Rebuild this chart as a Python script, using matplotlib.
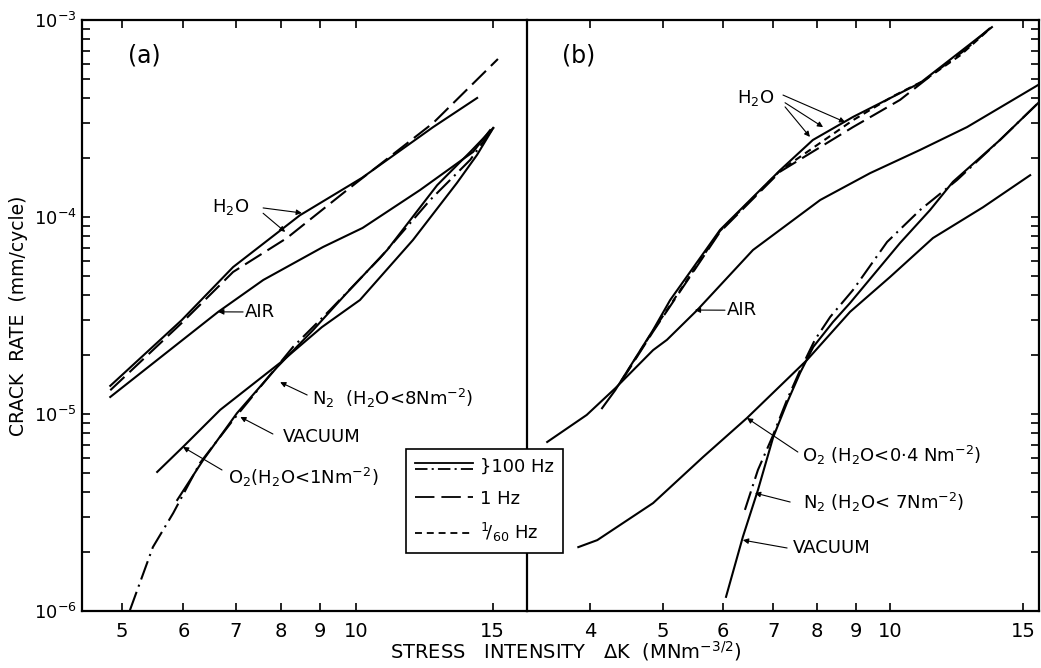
import matplotlib
matplotlib.use('Agg')
import matplotlib.pyplot as plt
from matplotlib.lines import Line2D
from matplotlib.legend_handler import HandlerBase
from matplotlib.ticker import FixedLocator, NullLocator, LogLocator, NullFormatter, FixedFormatter

plt.rcParams['font.family'] = ['DejaVu Sans']
plt.rcParams['mathtext.default'] = 'regular'
plt.rcParams['lines.scale_dashes'] = False

# ---------------- data : panel (a) ----------------
a_h2o_100_x = [4.83, 5.97, 6.95, 8.47, 10.18, 12.57, 14.32]
a_h2o_100_y = [1.39e-5, 3.0e-5, 5.57e-5, 1.02e-4, 1.58e-4, 2.86e-4, 4.02e-4]
a_h2o_1_x = [4.83, 5.97, 6.95, 8.15, 9.74, 12.57, 15.23]
a_h2o_1_y = [1.32e-5, 2.90e-5, 5.26e-5, 7.82e-5, 1.37e-4, 3.0e-4, 6.34e-4]
a_air_x = [4.83, 6.65, 7.60, 9.07, 10.2, 12.09, 14.15, 14.88]
a_air_y = [1.22e-5, 3.30e-5, 4.79e-5, 7.04e-5, 8.8e-5, 1.37e-4, 2.14e-4, 2.76e-4]
a_o2_x = [5.55, 5.99, 6.69, 7.99, 9.04, 10.12, 11.84, 13.49, 14.32, 15.02]
a_o2_y = [5.08e-6, 6.8e-6, 1.05e-5, 1.82e-5, 2.76e-5, 3.79e-5, 7.64e-5, 1.49e-4, 2.07e-4, 2.83e-4]
a_vac_x = [5.89, 6.36, 7.03, 7.92, 8.81, 9.68, 10.97, 12.72, 14.03, 15.02]
a_vac_y = [3.66e-6, 5.84e-6, 1.01e-5, 1.73e-5, 2.67e-5, 4.02e-5, 6.8e-5, 1.45e-4, 2.14e-4, 2.83e-4]
a_n2_x = [5.12, 5.48, 5.82, 6.30, 6.95, 7.53, 8.30, 9.26, 10.74, 12.46, 14.03, 15.02]
a_n2_y = [1.01e-6, 2.11e-6, 3.14e-6, 5.64e-6, 9.32e-6, 1.37e-5, 2.19e-5, 3.37e-5, 6.19e-5, 1.22e-4, 1.95e-4, 2.83e-4]

# ---------------- data : panel (b) ----------------
b_h2o_100_x = [4.15, 4.32, 4.85, 5.11, 5.95, 7.15, 7.90, 8.93, 10.96, 13.65]
b_h2o_100_y = [1.07e-5, 1.32e-5, 2.67e-5, 3.79e-5, 8.6e-5, 1.73e-4, 2.46e-4, 3.22e-4, 4.79e-4, 9.2e-4]
b_h2o_1_x = [4.4, 4.85, 5.95, 7.15, 8.93, 10.31, 11.58, 12.57, 13.57]
b_h2o_1_y = [1.46e-5, 2.62e-5, 8.4e-5, 1.70e-4, 2.86e-4, 3.93e-4, 5.57e-4, 7.04e-4, 9.1e-4]
b_h2o_60_x = [4.4, 4.85, 5.95, 7.15, 8.93, 10.09, 11.06, 12.38, 13.6]
b_h2o_60_y = [1.47e-5, 2.65e-5, 8.5e-5, 1.72e-4, 3.10e-4, 4.10e-4, 4.90e-4, 6.6e-4, 9.1e-4]
b_air_x = [3.51, 3.96, 4.32, 4.85, 5.06, 5.55, 6.58, 8.08, 9.41, 10.96, 12.65, 15.72]
b_air_y = [7.21e-6, 9.89e-6, 1.35e-5, 2.11e-5, 2.38e-5, 3.37e-5, 6.8e-5, 1.22e-4, 1.67e-4, 2.19e-4, 2.86e-4, 4.68e-4]
b_o2_x = [3.86, 4.09, 4.85, 5.65, 6.46, 7.76, 8.85, 10.0, 11.4, 13.28, 15.34]
b_o2_y = [2.11e-6, 2.29e-6, 3.53e-6, 6.05e-6, 9.54e-6, 1.88e-5, 3.3e-5, 4.96e-5, 7.82e-5, 1.12e-4, 1.63e-4]
b_vac_x = [6.06, 6.38, 6.68, 7.00, 7.30, 7.60, 7.91, 8.40, 8.85, 10.31, 11.30, 12.12, 13.99, 15.72]
b_vac_y = [1.18e-6, 2.38e-6, 4.11e-6, 7.64e-6, 1.14e-5, 1.62e-5, 2.19e-5, 2.93e-5, 3.66e-5, 7.38e-5, 1.085e-4, 1.51e-4, 2.46e-4, 3.79e-4]
b_n2_x = [6.42, 6.68, 6.98, 7.30, 7.60, 7.95, 8.33, 8.93, 9.91, 10.96, 12.27, 13.99, 15.72]
b_n2_y = [3.26e-6, 5.2e-6, 7.64e-6, 1.18e-5, 1.67e-5, 2.38e-5, 3.11e-5, 4.26e-5, 7.47e-5, 1.085e-4, 1.54e-4, 2.46e-4, 3.79e-4]

# ---------------- axis ticks ----------------
a_xticks = [5, 6, 7, 8, 9, 10, 15]
b_xticks = [4, 5, 6, 7, 8, 9, 10, 15]
y_major = [1e-6, 1e-5, 1e-4, 1e-3]
y_labels = ['10$^{-6}$', '10$^{-5}$', '10$^{-4}$', '10$^{-3}$']

legend_labels = ['}100 Hz', '1 Hz', r'$^{1}\!/_{60}$ Hz']

# ---------------- styles ----------------
LW = 1.5
SOLID = dict(color='black', lw=LW, linestyle='-')
DASH1 = dict(color='black', lw=LW, dashes=(14, 5))
DASH60 = dict(color='black', lw=LW, dashes=(5, 3.5))
DASHDOT = dict(color='black', lw=LW, dashes=(14, 4, 1.5, 4))

W, H = 1041, 668
fig = plt.figure(figsize=(W / 100, H / 100), dpi=100)
L1, R1, L2, R2 = 82, 527, 527, 1039
TOP, BOT = 20, 611
ax1 = fig.add_axes([L1 / W, 1 - BOT / H, (R1 - L1) / W, (BOT - TOP) / H])
ax2 = fig.add_axes([L2 / W, 1 - BOT / H, (R2 - L2) / W, (BOT - TOP) / H])

for ax in (ax1, ax2):
    ax.set_xscale('log')
    ax.set_yscale('log')
    ax.set_ylim(1e-6, 1e-3)
    for s in ax.spines.values():
        s.set_linewidth(1.6)

ax1.set_xlim(4.442, 16.6)
ax2.set_xlim(3.30, 15.76)

# panel (a) curves
ax1.plot(a_h2o_100_x, a_h2o_100_y, **SOLID)
ax1.plot(a_h2o_1_x, a_h2o_1_y, **DASH1)
ax1.plot(a_air_x, a_air_y, **SOLID)
ax1.plot(a_o2_x, a_o2_y, **SOLID)
ax1.plot(a_vac_x, a_vac_y, **SOLID)
ax1.plot(a_n2_x, a_n2_y, **DASHDOT)

# panel (b) curves
ax2.plot(b_h2o_100_x, b_h2o_100_y, **SOLID)
ax2.plot(b_h2o_1_x, b_h2o_1_y, **DASH1)
ax2.plot(b_h2o_60_x, b_h2o_60_y, **DASH60)
ax2.plot(b_air_x, b_air_y, **SOLID)
ax2.plot(b_o2_x, b_o2_y, **SOLID)
ax2.plot(b_vac_x, b_vac_y, **SOLID)
ax2.plot(b_n2_x, b_n2_y, **DASHDOT)

# ticks
TFS = 14
ax1.xaxis.set_major_locator(FixedLocator(a_xticks))
ax1.xaxis.set_major_formatter(FixedFormatter([str(v) for v in a_xticks]))
ax1.xaxis.set_minor_locator(NullLocator())
ax2.xaxis.set_major_locator(FixedLocator(b_xticks))
ax2.xaxis.set_major_formatter(FixedFormatter([str(v) for v in b_xticks]))
ax2.xaxis.set_minor_locator(NullLocator())
for ax in (ax1, ax2):
    ax.xaxis.set_minor_formatter(NullFormatter())
    ax.tick_params(axis='x', which='both', direction='in', top=True, bottom=True,
                   length=6, width=1.2, labelsize=TFS, pad=8)
    ax.yaxis.set_major_locator(FixedLocator(y_major))
    ax.yaxis.set_minor_locator(LogLocator(base=10, subs=range(2, 10)))
    ax.yaxis.set_minor_formatter(NullFormatter())

ax1.yaxis.set_major_formatter(FixedFormatter(y_labels))
ax1.tick_params(axis='y', which='both', direction='in', left=True, right=False,
                length=6, width=1.2, labelsize=13, pad=4)
ax1.spines['right'].set_visible(False)

ax2.tick_params(axis='y', which='both', direction='in', left=False, right=True,
                labelleft=False, labelright=False, length=6, width=1.2)

# axis labels
ax1.set_ylabel('CRACK  RATE  (mm/cycle)', fontsize=13.5, labelpad=4)
fig.text(566 / W, 1 - 651 / H, r'STRESS   INTENSITY   $\Delta$K  (MNm$^{-3/2}$)',
         ha='center', va='center', fontsize=14)

# panel letters
ax1.text(0.103, 0.94, '(a)', transform=ax1.transAxes, fontsize=17, ha='left', va='center')
ax2.text(0.068, 0.94, '(b)', transform=ax2.transAxes, fontsize=17, ha='left', va='center')

# annotations
AFS = 13
ARW = dict(arrowstyle='-|>', color='black', lw=0.8, mutation_scale=8, shrinkA=0, shrinkB=0)


def label(ax, txt, tx, ty, arrows):
    ax.text(tx, ty, txt, transform=ax.transAxes, fontsize=AFS, ha='left', va='center')
    for (sx, sy), tip in arrows:
        ax.annotate('', xy=tip, xycoords='data', xytext=(sx, sy),
                    textcoords='axes fraction', arrowprops=ARW)


label(ax1, r'H$_2$O', 0.292, 0.684, [((0.407, 0.682), (8.52, 1.048e-4)),
                                     ((0.407, 0.673), (8.11, 8.4e-5))])
label(ax1, 'AIR', 0.366, 0.506, [((0.362, 0.506), (6.65, 3.30e-5))])
label(ax1, r'N$_2$  (H$_2$O<8Nm$^{-2}$)', 0.517, 0.360, [((0.506, 0.3655), (7.99, 1.45e-5))])
label(ax1, 'VACUUM', 0.452, 0.294, [((0.429, 0.2995), (7.10, 9.66e-6))])
label(ax1, r'O$_2$(H$_2$O<1Nm$^{-2}$)', 0.328, 0.2267, [((0.3146, 0.2386), (5.99, 6.8e-6))])

label(ax2, r'H$_2$O', 0.410, 0.868, [((0.50, 0.873), (8.72, 3.03e-4)),
                                     ((0.504, 0.860), (8.15, 2.86e-4)),
                                     ((0.504, 0.853), (7.83, 2.55e-4))])
label(ax2, 'AIR', 0.3906, 0.509, [((0.3867, 0.509), (5.51, 3.37e-5))])
label(ax2, r'O$_2$ (H$_2$O<0·4 Nm$^{-2}$)', 0.537, 0.264, [((0.529, 0.269), (6.46, 9.54e-6))])
label(ax2, r'N$_2$ (H$_2$O< 7Nm$^{-2}$)', 0.539, 0.1844, [((0.514, 0.1844), (6.62, 3.97e-6))])
label(ax2, 'VACUUM', 0.5195, 0.1066, [((0.508, 0.1066), (6.38, 2.29e-6))])


# legend with a double-line handle (solid over dash-dot)
class HandlerTwoLines(HandlerBase):
    def create_artists(self, legend, orig_handle, xdescent, ydescent, width, height,
                       fontsize, trans):
        out = []
        for i, h in enumerate(orig_handle):
            y = height / 2 + (2.2 if i == 0 else -2.2)
            ln = Line2D([-xdescent, -xdescent + width], [y, y], color='black', lw=1.3)
            if h.get_linestyle() != '-':
                ln.set_dashes((9, 3, 1.5, 3))
            ln.set_transform(trans)
            out.append(ln)
        return out


h_solid = Line2D([], [], color='black', lw=1.3, linestyle='-')
h_dd = Line2D([], [], color='black', lw=1.3, linestyle='-.')
h_1 = Line2D([], [], color='black', lw=1.3, dashes=(14, 5))
h_60 = Line2D([], [], color='black', lw=1.3, dashes=(5, 3.5))
leg = fig.legend([(h_solid, h_dd), h_1, h_60], legend_labels,
                 handler_map={tuple: HandlerTwoLines()},
                 loc='upper left', bbox_to_anchor=(406 / W, 1 - 449 / H),
                 borderaxespad=0, fontsize=13, handlelength=3.2, handletextpad=0.4,
                 labelspacing=0.75, borderpad=0.5, fancybox=False, framealpha=1,
                 edgecolor='black')
leg.get_frame().set_linewidth(1.2)

fig.savefig('out.png', dpi=100)
